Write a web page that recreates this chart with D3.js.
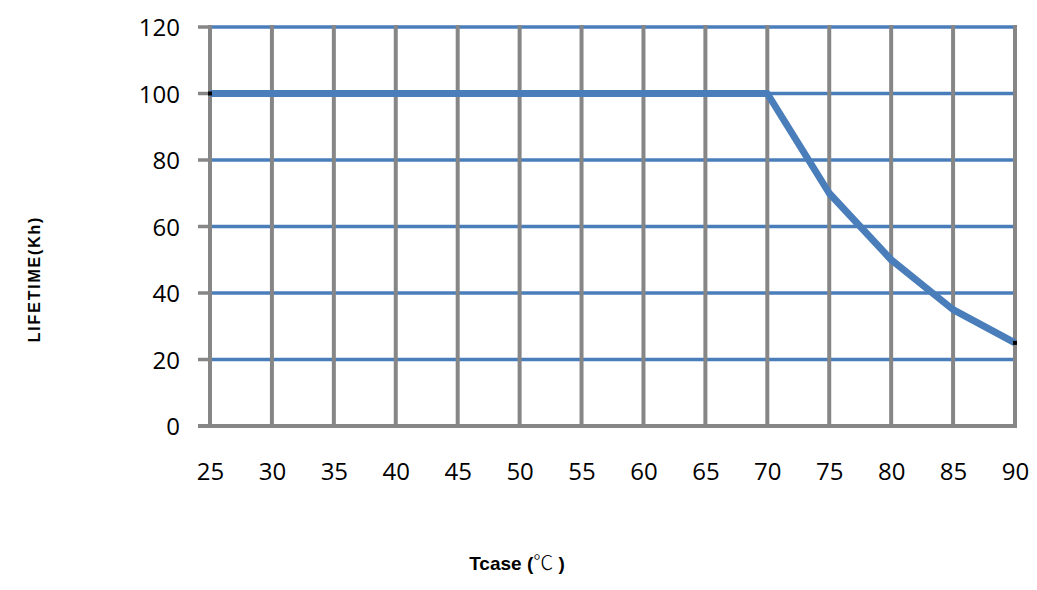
<!DOCTYPE html>
<html><head><meta charset="utf-8">
<script src="https://cdn.jsdelivr.net/npm/d3@7"></script>
<style>
body{margin:0;background:#fff;}
svg{display:block;}
</style></head>
<body>
<svg id="c" width="1037" height="590"></svg>
<script>
const temps = [25,30,35,40,45,50,55,60,65,70,75,80,85,90];
const lifetime = [100,100,100,100,100,100,100,100,100,100,70,50,35,25];
const yTicks = [0,20,40,60,80,100,120];
const xLabel = "Tcase (";
const xUnit = "℃";
const yLabel = "LIFETIME(Kh)";

const svg = d3.select("#c");
const x = d3.scaleLinear().domain([25,90]).range([210,1015]);
const y = d3.scaleLinear().domain([0,120]).range([426,27]);
const blue = "#4a7ebb", grey = "#868686";

// horizontal grid (blue) with grey stubs
const g = svg.append("g");
yTicks.filter(d=>d>0).forEach(d=>{
  g.append("line").attr("x1",x(25)).attr("x2",x(90)).attr("y1",y(d)).attr("y2",y(d))
   .attr("stroke",blue).attr("stroke-width",3.5);
  g.append("line").attr("x1",x(25)-12).attr("x2",x(25)).attr("y1",y(d)).attr("y2",y(d))
   .attr("stroke",grey).attr("stroke-width",3.5);
});
// vertical grid (grey)
temps.forEach(d=>{
  g.append("line").attr("x1",x(d)).attr("x2",x(d)).attr("y1",y(120)-2).attr("y2",y(0)+2)
   .attr("stroke",grey).attr("stroke-width",4);
});
// x axis line
g.append("line").attr("x1",x(25)-12).attr("x2",x(90)+2).attr("y1",y(0)).attr("y2",y(0))
 .attr("stroke",grey).attr("stroke-width",4);

// axes labels via d3 axes
const font = "'Open Sans', sans-serif";
const yAxis = svg.append("g").attr("transform",`translate(${x(25)-12},0)`)
  .call(d3.axisLeft(y).tickValues(yTicks).tickSize(0).tickPadding(18));
const xAxis = svg.append("g").attr("transform",`translate(0,${y(0)})`)
  .call(d3.axisBottom(x).tickValues(temps).tickSize(0).tickPadding(37));
[yAxis,xAxis].forEach(a=>{
  a.select(".domain").remove();
  a.selectAll("text").attr("font-family",font).attr("font-size",24).attr("fill","#000");
});
yAxis.selectAll("text").attr("dy","0.36em");

// curve
const line = d3.line().x((d,i)=>x(temps[i])).y(d=>y(d));
svg.append("path").datum(lifetime).attr("d",line).attr("fill","none")
  .attr("stroke",blue).attr("stroke-width",7).attr("stroke-linejoin","round");
// end markers
[0,temps.length-1].forEach(i=>{
  svg.append("rect").attr("x",x(temps[i])-2).attr("y",y(lifetime[i])-2)
    .attr("width",4).attr("height",4).attr("fill","#000");
});

// titles
svg.append("text").attr("transform",`translate(40,279) rotate(-90)`)
  .attr("text-anchor","middle").attr("font-family","'Liberation Sans', Arial, sans-serif")
  .attr("font-weight","bold").attr("font-size",16).attr("letter-spacing","1.8px").text(yLabel);
const t = svg.append("text").attr("x",517).attr("y",570).attr("text-anchor","middle")
  .attr("font-family","'Liberation Sans', Arial, sans-serif").attr("font-size",19).attr("font-weight","bold");
t.append("tspan").text(xLabel);
t.append("tspan").attr("font-weight","300").attr("font-family","'Noto Sans CJK SC', sans-serif").attr("font-size",20).text(xUnit);
t.append("tspan").text(" )");
</script>
</body></html>
